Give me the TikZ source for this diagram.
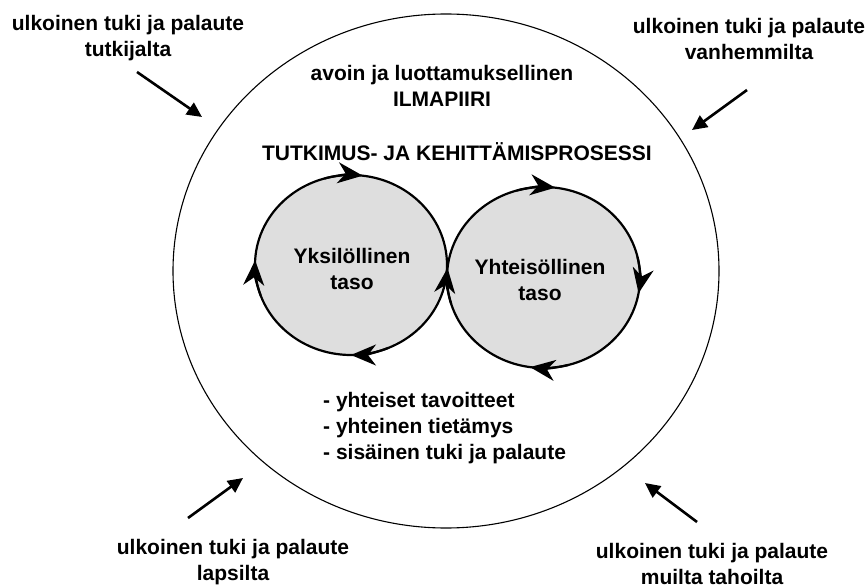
\documentclass[tikz,border=0pt]{standalone}
\usepackage{fontspec}
\setmainfont{Liberation Sans}
\usetikzlibrary{arrows.meta}

\tikzset{
  label/.style={font=\bfseries\fontsize{21}{26}\selectfont, align=center, inner sep=0pt},
  level/.style={draw=black, line width=2.2pt, fill=black!13},
  cyc/.style={line width=2.2pt, -{Stealth[length=25pt,width=21pt,inset=8pt]}},
  feed/.style={line width=2.6pt, -{Triangle[length=15pt,width=14pt]}},
  atmosphere/.style={draw=black, line width=1.1pt}
}

\begin{document}
\begin{tikzpicture}[x=1pt,y=1pt]
  \useasboundingbox (0,0) rectangle (866,587);

  % outer climate
  \draw[atmosphere] (446,316) ellipse [x radius=273, y radius=257];

  % the two levels
  \coordinate (L) at (351,322);
  \coordinate (R) at (543.5,309.5);
  \draw[level] (L) ellipse [x radius=96, y radius=90];
  \draw[level] (R) ellipse [x radius=96.5, y radius=90.5];

  % clockwise circulation on the left level
  \draw[cyc] ([shift={(L)}]106:96 and 90) arc[start angle=106, end angle=83, x radius=96, y radius=90];
  \draw[cyc] ([shift={(L)}]200:96 and 90) arc[start angle=200, end angle=177, x radius=96, y radius=90];
  \draw[cyc] ([shift={(L)}]293:96 and 90) arc[start angle=293, end angle=270, x radius=96, y radius=90];

  % clockwise circulation on the right level
  \draw[cyc] ([shift={(R)}]106:96.5 and 90.5) arc[start angle=106, end angle=83, x radius=96.5, y radius=90.5];
  \draw[cyc] ([shift={(R)}]197:96.5 and 90.5) arc[start angle=197, end angle=174, x radius=96.5, y radius=90.5];
  \draw[cyc] ([shift={(R)}]285:96.5 and 90.5) arc[start angle=285, end angle=262, x radius=96.5, y radius=90.5];
  \draw[cyc] ([shift={(R)}]13:96.5 and 90.5) arc[start angle=13, end angle=-10, x radius=96.5, y radius=90.5];

  % texts
  \node[label] (indiv) at (352,318.5) {Yksilöllinen\\taso};
  \node[label] (commun) at (540,307.5) {Yhteisöllinen\\taso};
  \node[label] (climate) at (442,501.5) {avoin ja luottamuksellinen\\ILMAPIIRI};
  \node[label] (process) at (457,435) {TUTKIMUS- JA KEHITTÄMISPROSESSI};
  \node[label, align=left, anchor=west] (shared) at (323,159)
    {- yhteiset tavoitteet\\- yhteinen tietämys\\- sisäinen tuki ja palaute};

  \node[label] (researcher) at (128,549) {ulkoinen tuki ja palaute\\tutkijalta};
  \node[label] (parents) at (749,548) {ulkoinen tuki ja palaute\\vanhemmilta};
  \node[label] (children) at (233,24.5) {ulkoinen tuki ja palaute\\lapsilta};
  \node[label] (others) at (712,23.5) {ulkoinen tuki ja palaute\\muilta tahoilta};

  % external feedback arrows
  \coordinate (r0) at (137,515); \coordinate (r1) at (202,470);
  \coordinate (p0) at (747,497); \coordinate (p1) at (692,457);
  \coordinate (c0) at (188,69);  \coordinate (c1) at (243,109);
  \coordinate (o0) at (697,65);  \coordinate (o1) at (645,104);
  \draw[feed] (r0) -- (r1);
  \draw[feed] (p0) -- (p1);
  \draw[feed] (c0) -- (c1);
  \draw[feed] (o0) -- (o1);
\end{tikzpicture}
\end{document}
